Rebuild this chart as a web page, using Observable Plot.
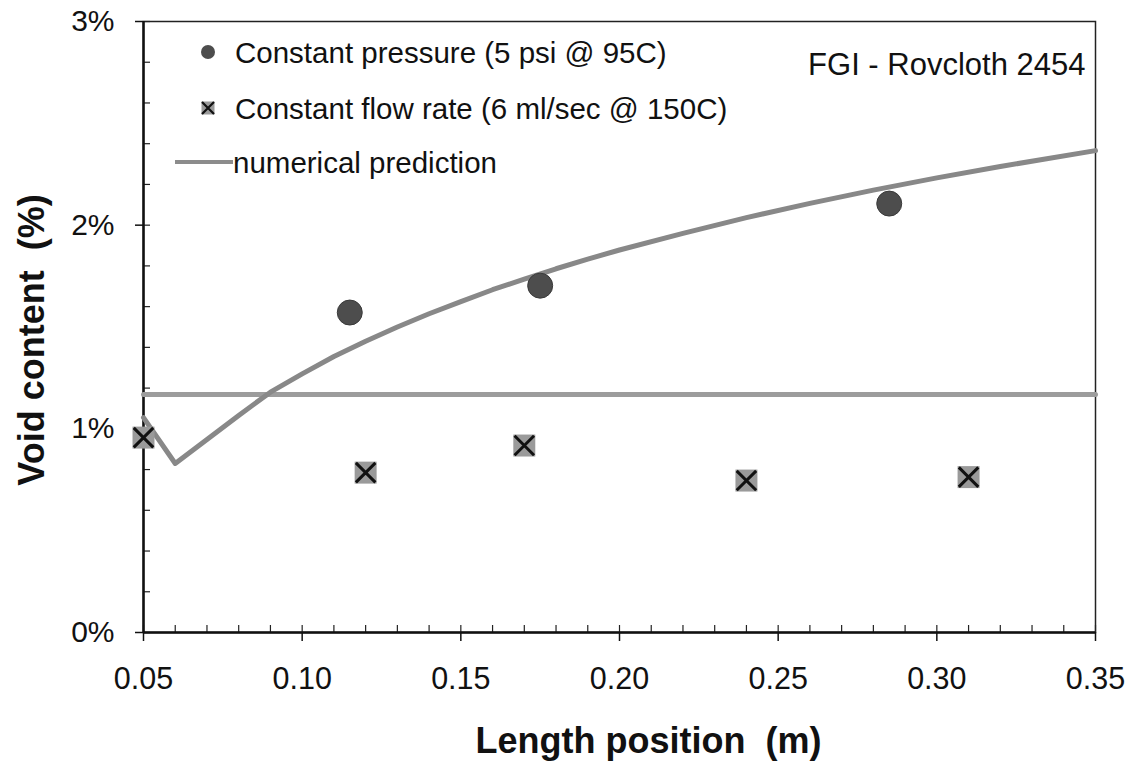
<!DOCTYPE html>
<html>
<head>
<meta charset="utf-8">
<script src="https://cdn.jsdelivr.net/npm/d3@7"></script>
<script src="https://cdn.jsdelivr.net/npm/@observablehq/plot@0.6"></script>
<style>
  html, body { margin: 0; padding: 0; background: #fff; }
  #chart { width: 1137px; height: 768px; }
</style>
</head>
<body>
<div id="chart"></div>
<script>
// ---- Data ----
// Constant pressure (5 psi @ 95C)
const pressureX = [0.115, 0.175, 0.285];
const pressureY = [1.571, 1.703, 2.106];
// Constant flow rate (6 ml/sec @ 150C)
const flowX = [0.05, 0.12, 0.17, 0.24, 0.31];
const flowY = [0.957, 0.785, 0.918, 0.746, 0.763];
// numerical prediction curve
const predX = [0.05, 0.06, 0.07, 0.08, 0.09, 0.10, 0.11, 0.12, 0.13, 0.14, 0.15, 0.16, 0.17, 0.18, 0.19, 0.20, 0.22, 0.24, 0.26, 0.28, 0.30, 0.32, 0.35];
const predY = [1.055, 0.83, 0.948, 1.066, 1.18, 1.27, 1.355, 1.43, 1.50, 1.565, 1.625, 1.683, 1.735, 1.786, 1.833, 1.878, 1.96, 2.037, 2.107, 2.172, 2.232, 2.288, 2.366];
// horizontal level line
const levelX = [0.05, 0.35];
const levelY = [1.168, 1.168];
// ticks
const xTicks = [0.05, 0.10, 0.15, 0.20, 0.25, 0.30, 0.35];
const xMinor = d3.range(5, 36).map(d => d / 100);
const yTicks = [0, 1, 2, 3];
const yMinor = d3.range(0, 16).map(d => d / 5);
const legendLabels = ["Constant pressure (5 psi @ 95C)", "Constant flow rate (6 ml/sec @ 150C)", "numerical prediction"];
const noteText = "FGI - Rovcloth 2454";
const xTitle = "Length position\u00a0 (m)";
const yTitle = "Void content\u00a0 (%)";

const pressure = pressureX.map((x, i) => ({x, y: pressureY[i]}));
const flow = flowX.map((x, i) => ({x, y: flowY[i]}));
const pred = predX.map((x, i) => ({x, y: predY[i]}));
const level = levelX.map((x, i) => ({x, y: levelY[i]}));

const W = 1137, H = 768, ML = 143, MR = 42, MT = 21, MB = 136;
const PW = W - ML - MR, PH = H - MT - MB;

const squareSym = {draw(ctx, size) { const s = Math.sqrt(size) / 2; ctx.rect(-s, -s, 2 * s, 2 * s); }};
const timesSym = {draw(ctx, size) { const s = Math.sqrt(size) / 2; ctx.moveTo(-s, -s); ctx.lineTo(s, s); ctx.moveTo(s, -s); ctx.lineTo(-s, s); }};

const FONT = "'Liberation Sans', Arial, Helvetica, sans-serif";

function legendMark(index, scales, values, dims) {
  const ns = "http://www.w3.org/2000/svg";
  const g = document.createElementNS(ns, "g");
  const ml = dims.marginLeft, mt = dims.marginTop;
  const mk = (tag, attrs) => { const e = document.createElementNS(ns, tag); for (const k in attrs) e.setAttribute(k, attrs[k]); g.appendChild(e); return e; };
  // circle
  mk("circle", {cx: ml + 65, cy: mt + 31, r: 7, fill: "#4d4d4d"});
  // cross
  mk("rect", {x: ml + 65 - 6.5, y: mt + 87 - 6.5, width: 13, height: 13, fill: "#9a9a9a"});
  mk("path", {d: `M${ml + 59},${mt + 81}L${ml + 71},${mt + 93}M${ml + 71},${mt + 81}L${ml + 59},${mt + 93}`, stroke: "#111", "stroke-width": 2.2});
  // line
  mk("line", {x1: ml + 32, x2: ml + 90, y1: mt + 141, y2: mt + 141, stroke: "#8c8c8c", "stroke-width": 4});
  const ys = [mt + 31, mt + 87, mt + 141];
  const xs = [ml + 92, ml + 92, ml + 90];
  legendLabels.forEach((t, i) => {
    const e = mk("text", {x: xs[i], y: ys[i], "text-anchor": "start", "dominant-baseline": "central", "font-size": 29.5, fill: "#111", "font-family": FONT});
    e.textContent = t;
  });
  return g;
}

const chart = Plot.plot({
  width: W, height: H,
  marginLeft: ML, marginRight: MR, marginTop: MT, marginBottom: MB,
  style: {fontFamily: FONT, fontSize: "30px", color: "#111", background: "#fff"},
  x: {domain: [0.05, 0.35]},
  y: {domain: [0, 3]},
  marks: [
    // frame (top/right)
    Plot.frame({stroke: "#222", strokeWidth: 1.5}),
    // minor ticks inside
    Plot.tickX(xMinor, {x: d => d, insetTop: PH - 7, stroke: "#222", strokeWidth: 1.2}),
    Plot.tickY(yMinor, {y: d => d, insetRight: PW - 7, stroke: "#222", strokeWidth: 1.2}),
    // axes
    Plot.axisX({ticks: xTicks, tickSize: 9, tickPadding: 26, tickFormat: d => d.toFixed(2), label: null, fontSize: 30.5, strokeWidth: 1.5}),
    Plot.axisY({ticks: yTicks, tickSize: 8, tickPadding: 21, tickFormat: d => d + "%", label: null, fontSize: 30, strokeWidth: 1.5}),
    Plot.ruleX([0.05], {stroke: "#111", strokeWidth: 2.5}),
    Plot.ruleY([0], {stroke: "#111", strokeWidth: 2.5}),
    // lines
    Plot.line(level, {x: "x", y: "y", stroke: "#9c9c9c", strokeWidth: 5}),
    Plot.line(pred, {x: "x", y: "y", stroke: "#888", strokeWidth: 5, strokeLinejoin: "round"}),
    // markers
    Plot.dot(pressure, {x: "x", y: "y", r: 12.5, fill: "#4d4d4d", stroke: "#3a3a3a", strokeWidth: 1}),
    Plot.dot(flow, {x: "x", y: "y", r: 12.4, symbol: squareSym, fill: "#9a9a9a"}),
    Plot.dot(flow, {x: "x", y: "y", r: 11, symbol: timesSym, stroke: "#111", strokeWidth: 3}),
    // annotations and titles
    Plot.text([noteText], {frameAnchor: "top-right", dx: -10, dy: 31, textAnchor: "end", fontSize: 31, fill: "#111"}),
    Plot.text([xTitle], {frameAnchor: "bottom", textAnchor: "middle", dx: 29, dy: 120, fontSize: 36, fontWeight: "bold", fill: "#111"}),
    Plot.text([yTitle], {frameAnchor: "left", textAnchor: "middle", dx: -111, dy: 13, rotate: -90, fontSize: 36, fontWeight: "bold", fill: "#111"}),
    legendMark
  ]
});
document.getElementById("chart").appendChild(chart);
</script>
</body>
</html>
